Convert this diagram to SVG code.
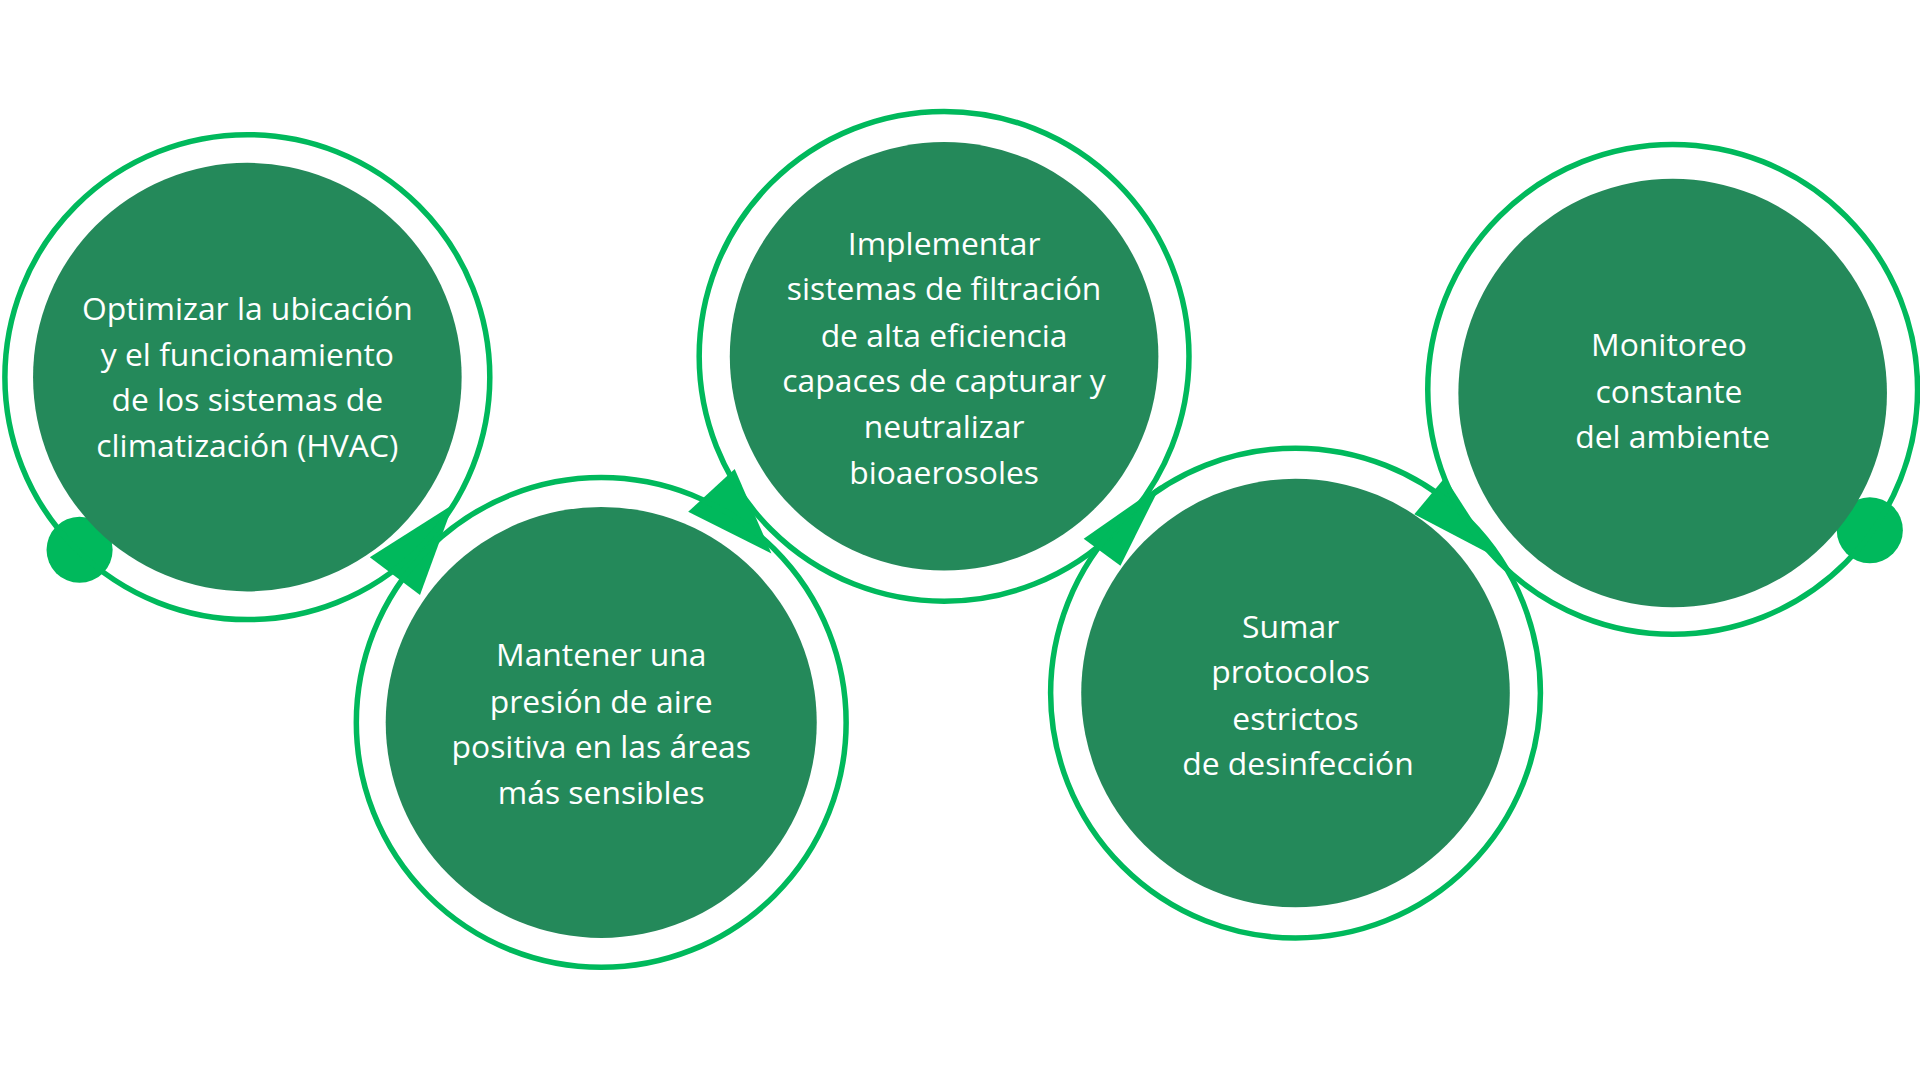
<svg xmlns="http://www.w3.org/2000/svg" width="1920" height="1080" viewBox="0 0 1920 1080">
<style>
.ring{fill:none;stroke:#00b95c;stroke-width:4.5}
.fill{fill:#24895a}
.t{font-family:"Open Sans","Liberation Sans",sans-serif;font-size:26px;fill:#fff;text-anchor:middle}
.acc{fill:#00b95c}
</style>
<rect width="1920" height="1080" fill="#fff"/>
<g transform="scale(1.2245)">
<g id="connectors">
<circle class="acc" cx="65" cy="449" r="27"/>
<circle class="acc" cx="1527" cy="433" r="27"/>
<polygon class="acc" points="302,455 370,412 343,486"/>
<polygon class="acc" points="562,418 600,383 630,452"/>
<polygon class="acc" points="885,440 948,396 915,462"/>
<polygon class="acc" points="1155,420 1180,390 1222,455"/>
</g>
<g id="n1"><circle class="ring" cx="202" cy="308" r="198"/><circle class="fill" cx="202" cy="308" r="175"/>
<text class="t" x="202" y="261">Optimizar la ubicación</text><text class="t" x="202" y="299">y el funcionamiento</text><text class="t" x="202" y="336">de los sistemas de</text><text class="t" x="202" y="373">climatización (HVAC)</text></g>
<g id="n2"><circle class="ring" cx="491" cy="590" r="200"/><circle class="fill" cx="491" cy="590" r="176"/>
<text class="t" x="491" y="544">Mantener una</text><text class="t" x="491" y="582">presión de aire</text><text class="t" x="491" y="619">positiva en las áreas</text><text class="t" x="491" y="657">más sensibles</text></g>
<g id="n3"><circle class="ring" cx="771" cy="291" r="200"/><circle class="fill" cx="771" cy="291" r="175"/>
<text class="t" x="771" y="208">Implementar</text><text class="t" x="771" y="245">sistemas de filtración</text><text class="t" x="771" y="283">de alta eficiencia</text><text class="t" x="771" y="320">capaces de capturar y</text><text class="t" x="771" y="358">neutralizar</text><text class="t" x="771" y="395">bioaerosoles</text></g>
<g id="n4"><circle class="ring" cx="1058" cy="566" r="200"/><circle class="fill" cx="1058" cy="566" r="175"/>
<text class="t" x="1054" y="521">Sumar</text><text class="t" x="1054" y="558">protocolos</text><text class="t" x="1058" y="596">estrictos</text><text class="t" x="1060" y="633">de desinfección</text></g>
<g id="n5"><circle class="ring" cx="1366" cy="318" r="200"/><circle class="fill" cx="1366" cy="321" r="175"/>
<text class="t" x="1363" y="291">Monitoreo</text><text class="t" x="1363" y="329">constante</text><text class="t" x="1366" y="366">del ambiente</text></g>
</g>
</svg>
